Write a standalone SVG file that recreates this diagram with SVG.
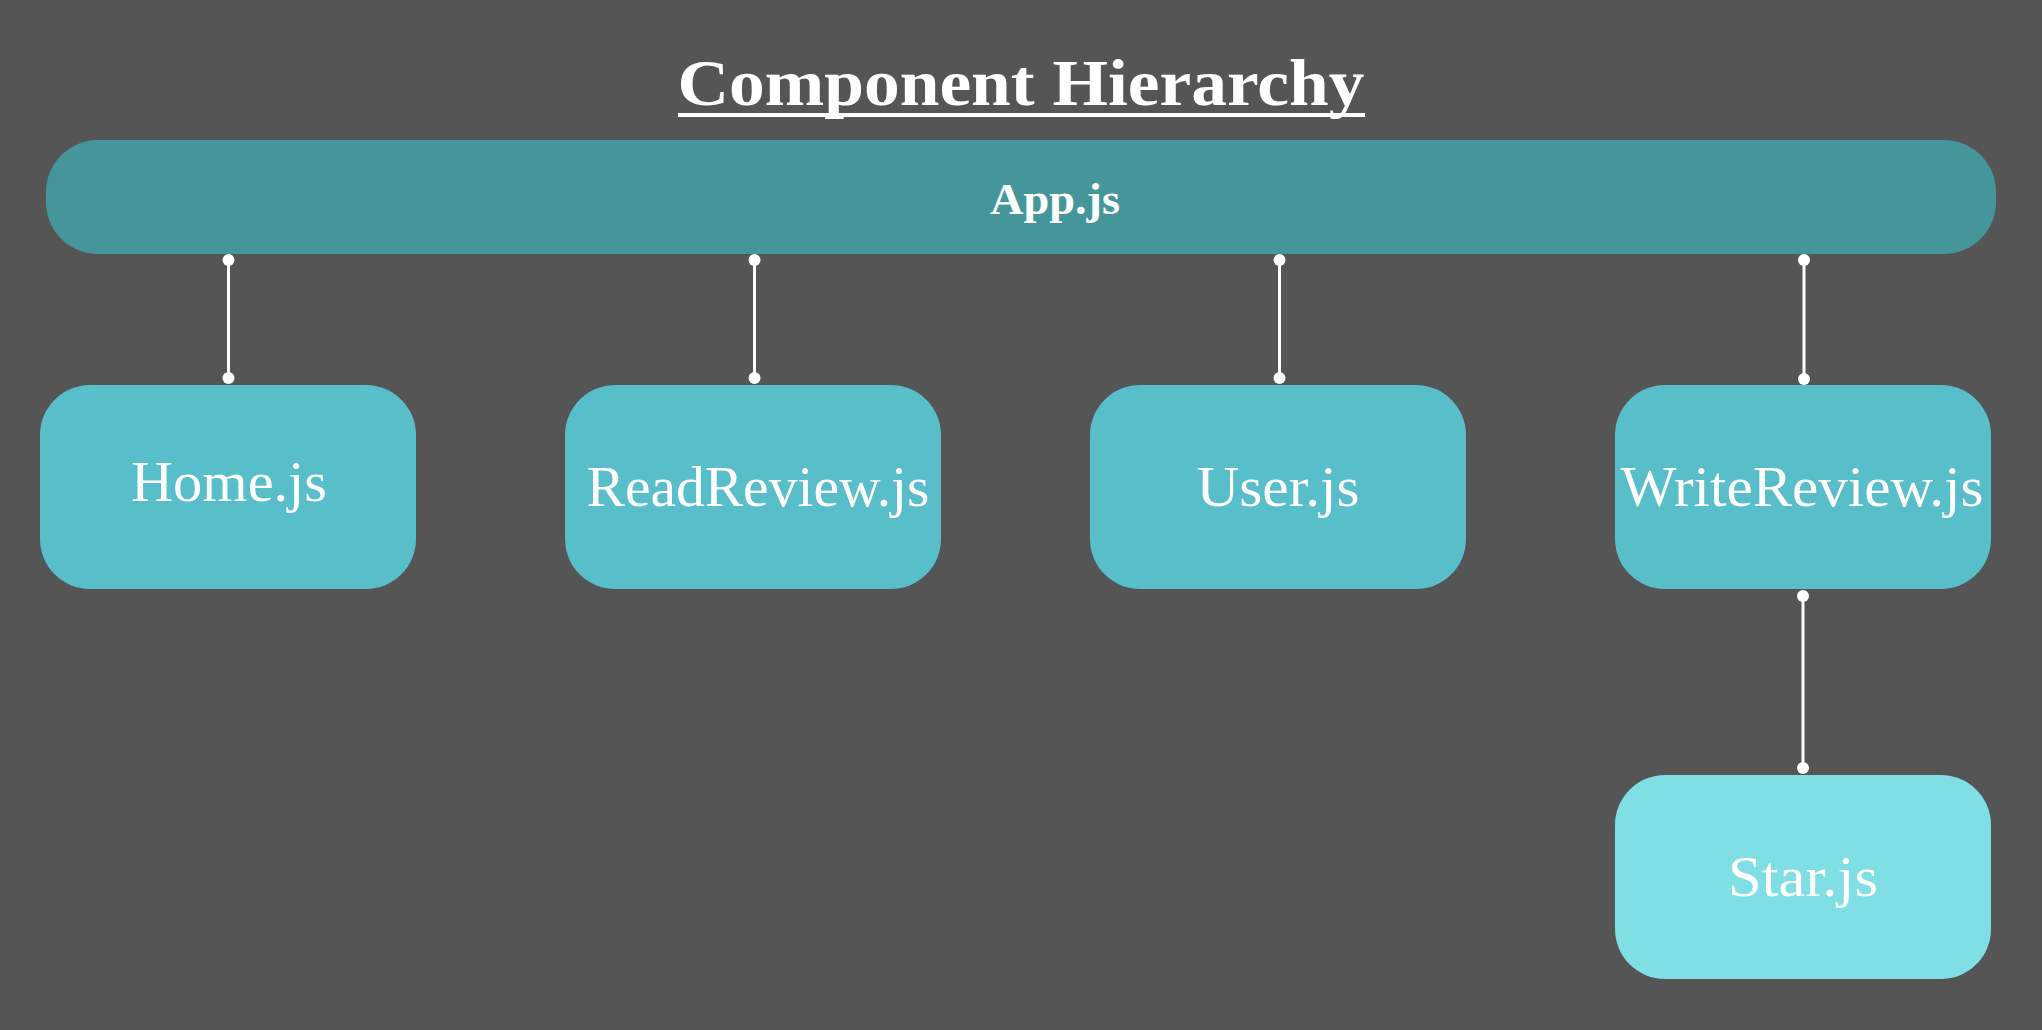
<svg xmlns="http://www.w3.org/2000/svg" width="2042" height="1030" viewBox="0 0 2042 1030">
<style>
.bg{fill:#555555}
.app{fill:#45969b}
.child{fill:#58bec9}
.leaf{fill:#80dfe5}
.lbl{font-family:"Liberation Serif",serif;font-size:56px;fill:#ffffff;text-anchor:middle}
.bold{font-weight:bold}
.conn line{stroke:#ffffff;stroke-width:3}
.conn circle{fill:#ffffff}
</style>
<rect class="bg" x="0" y="0" width="2042" height="1030"/>
<g id="title">
<text class="lbl bold" x="1021" y="105" style="font-size:66px" textLength="687" lengthAdjust="spacingAndGlyphs">Component Hierarchy</text>
<rect x="678" y="113" width="687" height="4" fill="#ffffff"/>
</g>
<g id="app">
<rect class="app" x="46" y="140" width="1950" height="114" rx="52" ry="52"/>
<text class="lbl bold" x="1055" y="214" style="font-size:44px" textLength="130" lengthAdjust="spacingAndGlyphs">App.js</text>
</g>
<g id="home">
<rect class="child" x="40" y="385" width="376" height="204" rx="50" ry="50"/>
<text class="lbl" x="229" y="501" textLength="196" lengthAdjust="spacingAndGlyphs">Home.js</text>
</g>
<g id="readreview">
<rect class="child" x="565" y="385" width="376" height="204" rx="50" ry="50"/>
<text class="lbl" x="758" y="506" textLength="343" lengthAdjust="spacingAndGlyphs">ReadReview.js</text>
</g>
<g id="user">
<rect class="child" x="1090" y="385" width="376" height="204" rx="50" ry="50"/>
<text class="lbl" x="1278" y="506" textLength="163" lengthAdjust="spacingAndGlyphs">User.js</text>
</g>
<g id="writereview">
<rect class="child" x="1615" y="385" width="376" height="204" rx="50" ry="50"/>
<text class="lbl" x="1802" y="506" textLength="363" lengthAdjust="spacingAndGlyphs">WriteReview.js</text>
</g>
<g id="star">
<rect class="leaf" x="1615" y="775" width="376" height="204" rx="50" ry="50"/>
<text class="lbl" x="1803" y="896" textLength="150" lengthAdjust="spacingAndGlyphs">Star.js</text>
</g>
<g id="connectors" class="conn">
<line x1="228.5" y1="260" x2="228.5" y2="378"/>
<circle cx="228.5" cy="260" r="6"/><circle cx="228.5" cy="378" r="6"/>
<line x1="754.5" y1="260" x2="754.5" y2="378"/>
<circle cx="754.5" cy="260" r="6"/><circle cx="754.5" cy="378" r="6"/>
<line x1="1279.5" y1="260" x2="1279.5" y2="378"/>
<circle cx="1279.5" cy="260" r="6"/><circle cx="1279.5" cy="378" r="6"/>
<line x1="1804" y1="260" x2="1804" y2="379"/>
<circle cx="1804" cy="260" r="6"/><circle cx="1804" cy="379" r="6"/>
<line x1="1803" y1="596" x2="1803" y2="768"/>
<circle cx="1803" cy="596" r="6"/><circle cx="1803" cy="768" r="6"/>
</g>
</svg>
